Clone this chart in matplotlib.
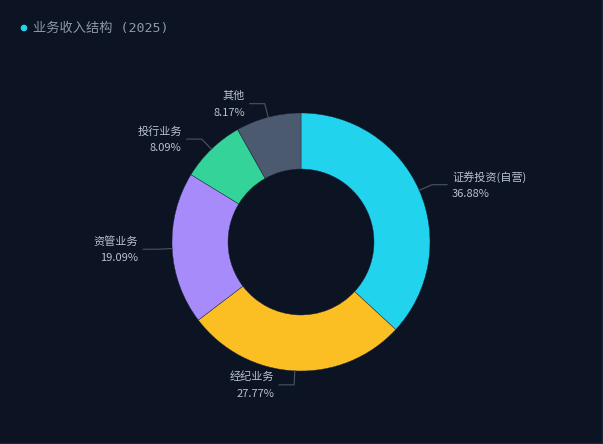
import numpy as np
import matplotlib.pyplot as plt
from matplotlib.patches import Circle

plt.rcParams['font.family'] = ['Noto Sans CJK SC', 'DejaVu Sans']

names = ['证券投资(自营)', '经纪业务', '资管业务', '投行业务', '其他']
shares = [36.88, 27.77, 19.09, 8.09, 8.17]
colors = ['#22d3ee', '#fbbf24', '#a78bfa', '#34d399', '#4b5a6e']
title = '业务收入结构 (2025)'

W, H = 603, 444
bg = '#0c1322'
cx, cy = 301, H - 242
r_out, r_in = 129, 73

fig = plt.figure(figsize=(W / 100, H / 100), dpi=100, facecolor=bg)
ax = fig.add_axes([0, 0, 1, 1])
ax.set_facecolor(bg)

ax.pie(shares, colors=colors, startangle=90, counterclock=False,
       center=(cx, cy), radius=r_out,
       wedgeprops=dict(width=r_out - r_in, edgecolor='#1e293b', linewidth=0.3))

# faint card edge on right and bottom
ax.plot([W - 1.5, W - 1.5, 0], [H, 1.5, 1.5], color='#1c2638', lw=1)

# labels with leader lines
total = sum(shares)
cum = np.cumsum([0] + shares[:-1])
for name, val, c0 in zip(names, shares, cum):
    ang = np.deg2rad((c0 + val / 2) / total * 360)
    dx, dy = np.sin(ang), np.cos(ang)
    x0, y0 = cx + r_out * dx, cy + r_out * dy
    x1, y1 = cx + (r_out + 14) * dx, cy + (r_out + 14) * dy
    side = 1 if dx >= 0 else -1
    x2 = x1 + 15 * side
    ax.plot([x0, x1, x2], [y0, y1, y1], color='#4b5566', lw=0.8)
    ha = 'left' if side > 0 else 'right'
    tx = x2 + 5 * side
    ax.text(tx, y1 + 8, name, color='#b8c1cd', fontsize=8, ha=ha, va='center')
    ax.text(tx, y1 - 9, f'{val:.2f}%', color='#b8c1cd', fontsize=8, ha=ha, va='center')

ax.add_patch(Circle((24, H - 28), 2.6, color='#22d3ee'))
ax.text(33, H - 28, title, color='#8d97a7', fontsize=9.5, ha='left', va='center',
        family=['DejaVu Sans Mono', 'Noto Sans CJK SC'])

ax.set_xlim(0, W)
ax.set_ylim(0, H)
ax.set_aspect('equal')
ax.axis('off')

fig.savefig('out.png', dpi=100, facecolor=bg)
